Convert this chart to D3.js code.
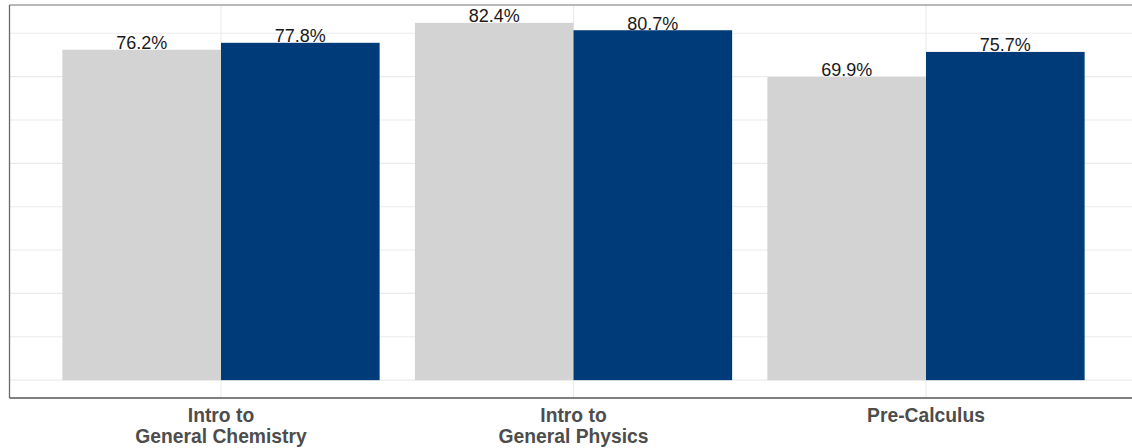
<!DOCTYPE html>
<html>
<head>
<meta charset="utf-8">
<script src="https://cdn.jsdelivr.net/npm/d3@7"></script>
<style>
  html, body { margin: 0; padding: 0; background: #fff; }
  svg { display: block; font-family: "Liberation Sans", Arial, sans-serif; }
</style>
</head>
<body>
<svg id="chart" width="1132" height="448"></svg>
<script>
// Course pass rates, two cohorts per course
const categories = ["Intro to\nGeneral Chemistry", "Intro to\nGeneral Physics", "Pre-Calculus"];
const groups = ["before", "after"];
const beforeValues = [76.2, 82.4, 69.9];
const afterValues = [77.8, 80.7, 75.7];
const gridValues = [0, 10, 20, 30, 40, 50, 60, 70, 80];
const groupColors = ["#d3d3d3", "#003b79"];

const svg = d3.select("#chart");
const W = 1132, H = 448;

// Panel extends a bit past the right edge of the canvas
const panel = { left: 9.5, right: 1137.5, top: 5, bottom: 398 };

const maxVal = d3.max(beforeValues.concat(afterValues));
const pad = maxVal * 0.05;
const y = d3.scaleLinear().domain([-pad, maxVal + pad]).range([panel.bottom, panel.top]);

// Category band: each category occupies one unit, 0.6 units padding at ends
const unit = (panel.right - panel.left) / (categories.length - 1 + 1.2);
const x = d3.scalePoint().domain(categories)
  .range([panel.left + 0.6 * unit, panel.right - 0.6 * unit]);
const sub = d3.scaleBand().domain(groups).range([-0.45 * unit, 0.45 * unit]).padding(0);

const g = svg.append("g");

// horizontal grid
g.append("g").selectAll("line").data(gridValues).join("line")
  .attr("x1", panel.left).attr("x2", panel.right)
  .attr("y1", d => y(d)).attr("y2", d => y(d))
  .attr("stroke", "#ebebeb").attr("stroke-width", 1.1);

// vertical grid at category centers
g.append("g").selectAll("line").data(categories).join("line")
  .attr("x1", d => x(d)).attr("x2", d => x(d))
  .attr("y1", panel.top).attr("y2", panel.bottom)
  .attr("stroke", "#ebebeb").attr("stroke-width", 1.1);

// bars
const rows = [];
categories.forEach((c, i) => {
  rows.push({ cat: c, grp: "before", value: beforeValues[i] });
  rows.push({ cat: c, grp: "after", value: afterValues[i] });
});
const color = d3.scaleOrdinal().domain(groups).range(groupColors);

g.append("g").selectAll("rect").data(rows).join("rect")
  .attr("x", d => x(d.cat) + sub(d.grp))
  .attr("width", sub.bandwidth())
  .attr("y", d => y(d.value))
  .attr("height", d => y(0) - y(d.value))
  .attr("fill", d => color(d.grp));

// value labels
g.append("g").selectAll("text").data(rows).join("text")
  .attr("x", d => x(d.cat) + sub(d.grp) + sub.bandwidth() / 2)
  .attr("y", d => y(d.value) - 0.7)
  .attr("text-anchor", "middle")
  .attr("font-size", 18)
  .attr("fill", "#1a1a1a")
  .text(d => d.value.toFixed(1) + "%");

// panel border (top and left), x axis line
g.append("line").attr("x1", panel.left).attr("x2", W).attr("y1", panel.top).attr("y2", panel.top)
  .attr("stroke", "#a0a0a0").attr("stroke-width", 1.3);
g.append("line").attr("x1", panel.left).attr("x2", panel.left).attr("y1", panel.top).attr("y2", panel.bottom)
  .attr("stroke", "#6a6a6a").attr("stroke-width", 1.3);
g.append("line").attr("x1", panel.left).attr("x2", W).attr("y1", panel.bottom).attr("y2", panel.bottom)
  .attr("stroke", "#555").attr("stroke-width", 1.6);

// category labels
const lab = g.append("g").selectAll("text").data(categories).join("text")
  .attr("x", d => x(d))
  .attr("y", 421.7)
  .attr("text-anchor", "middle")
  .attr("font-size", 19.3)
  .attr("font-weight", "bold")
  .attr("fill", "#4d4d4d");
lab.each(function(d) {
  const t = d3.select(this);
  d.split("\n").forEach((line, i) => {
    t.append("tspan").attr("x", x(d)).attr("dy", i === 0 ? 0 : 21.6).text(line);
  });
});
</script>
</body>
</html>
